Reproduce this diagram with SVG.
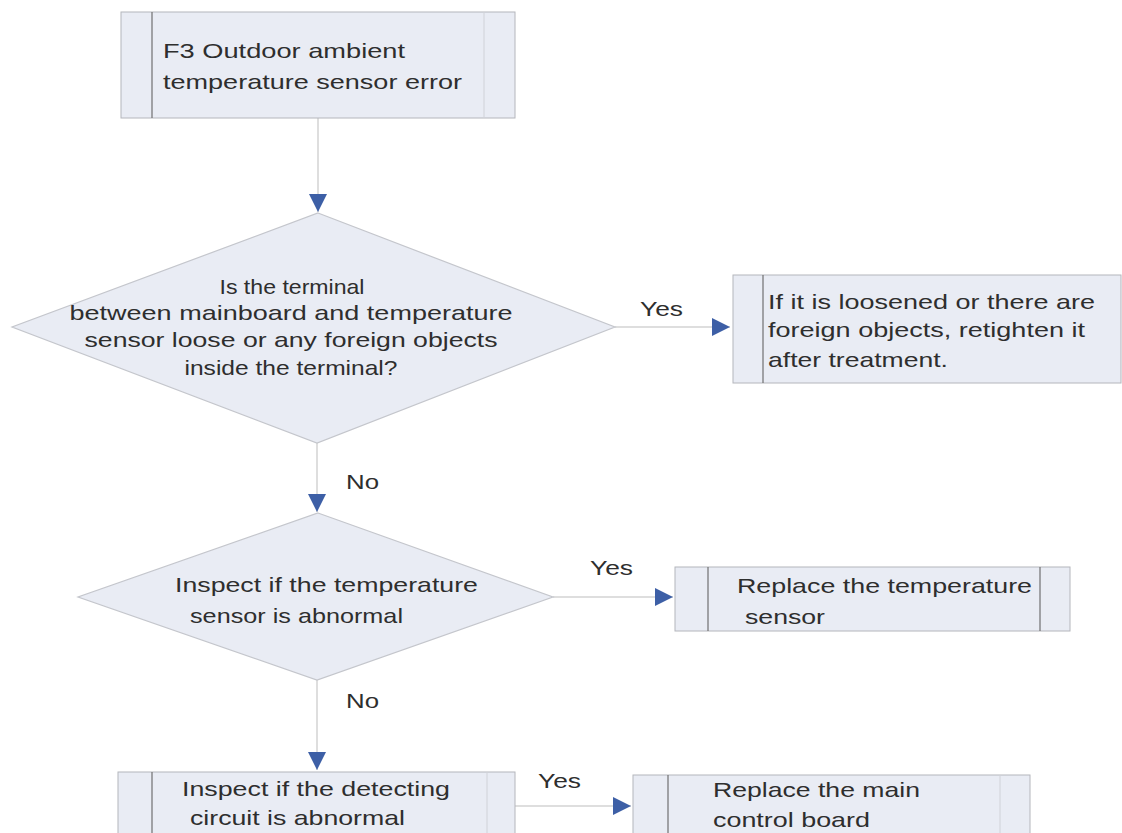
<svg xmlns="http://www.w3.org/2000/svg" width="1122" height="833" viewBox="0 0 1122 833">
<style>
.bg{fill:#ffffff}
.box{fill:#e9ecf4;stroke:#b4b6bc;stroke-width:1}
.dia{fill:#e9ecf4;stroke:#c4c6cc;stroke-width:1.2}
.div{stroke:#707070;stroke-width:1.2}
.div2{stroke:#d0d2d8;stroke-width:1}
.t{font-family:"Liberation Sans",Arial,sans-serif;font-size:21px;fill:#2e2e2e}
.c{text-anchor:middle}
.line{stroke:#bdbdbd;stroke-width:1;fill:none}
</style>
<defs>
<marker id="arr" viewBox="0 0 10 10" refX="10" refY="5" markerWidth="18" markerHeight="18" markerUnits="userSpaceOnUse" orient="auto">
<path d="M0,0 L10,5 L0,10 Z" fill="#3d5fa6"/>
</marker>
</defs>
<rect class="bg" x="0" y="0" width="1122" height="833"/>

<g id="connectors">
<line class="line" x1="318" y1="118" x2="318" y2="212" marker-end="url(#arr)"/>
<line class="line" x1="615" y1="327" x2="730" y2="327" marker-end="url(#arr)"/>
<line class="line" x1="317" y1="443" x2="317" y2="512" marker-end="url(#arr)"/>
<line class="line" x1="553" y1="597" x2="673" y2="597" marker-end="url(#arr)"/>
<line class="line" x1="317" y1="680" x2="317" y2="770" marker-end="url(#arr)"/>
<line class="line" x1="515" y1="806" x2="631" y2="806" marker-end="url(#arr)"/>
<text class="t" x="640" y="316" textLength="43" lengthAdjust="spacingAndGlyphs">Yes</text>
<text class="t" x="346" y="489" textLength="33" lengthAdjust="spacingAndGlyphs">No</text>
<text class="t" x="590" y="575" textLength="43" lengthAdjust="spacingAndGlyphs">Yes</text>
<text class="t" x="346" y="708" textLength="33" lengthAdjust="spacingAndGlyphs">No</text>
<text class="t" x="538" y="788" textLength="43" lengthAdjust="spacingAndGlyphs">Yes</text>
</g>

<g id="start">
<rect class="box" x="121" y="12" width="394" height="106"/>
<line class="div" x1="152" y1="12" x2="152" y2="118"/>
<line class="div2" x1="484" y1="12" x2="484" y2="118"/>
<text class="t" x="163" y="58" textLength="242" lengthAdjust="spacingAndGlyphs">F3 Outdoor ambient</text>
<text class="t" x="163" y="89" textLength="299" lengthAdjust="spacingAndGlyphs">temperature sensor error</text>
</g>

<g id="decision1">
<polygon class="dia" points="318,213 615,327 317,443 12,327"/>
<text class="t c" x="292" y="294" textLength="145" lengthAdjust="spacingAndGlyphs">Is the terminal</text>
<text class="t c" x="291" y="320" textLength="443" lengthAdjust="spacingAndGlyphs">between mainboard and temperature</text>
<text class="t c" x="291" y="347" textLength="413" lengthAdjust="spacingAndGlyphs">sensor loose or any foreign objects</text>
<text class="t c" x="291" y="375" textLength="213" lengthAdjust="spacingAndGlyphs">inside the terminal?</text>
</g>

<g id="fix1">
<rect class="box" x="733" y="275" width="388" height="108"/>
<line class="div" x1="763" y1="275" x2="763" y2="383"/>
<text class="t" x="768" y="309" textLength="327" lengthAdjust="spacingAndGlyphs">If it is loosened or there are</text>
<text class="t" x="768" y="337" textLength="317" lengthAdjust="spacingAndGlyphs">foreign objects, retighten it</text>
<text class="t" x="768" y="367" textLength="180" lengthAdjust="spacingAndGlyphs">after treatment.</text>
</g>

<g id="decision2">
<polygon class="dia" points="318,513 553,597 317,680 78,597"/>
<text class="t" x="175" y="592" textLength="303" lengthAdjust="spacingAndGlyphs">Inspect if the temperature</text>
<text class="t" x="190" y="623" textLength="213" lengthAdjust="spacingAndGlyphs">sensor is abnormal</text>
</g>

<g id="fix2">
<rect class="box" x="675" y="567" width="395" height="64"/>
<line class="div" x1="708" y1="567" x2="708" y2="631"/>
<line class="div" x1="1040" y1="567" x2="1040" y2="631"/>
<text class="t" x="737" y="593" textLength="295" lengthAdjust="spacingAndGlyphs">Replace the temperature</text>
<text class="t" x="745" y="624" textLength="80" lengthAdjust="spacingAndGlyphs">sensor</text>
</g>

<g id="check3">
<rect class="box" x="118" y="772" width="397" height="70"/>
<line class="div" x1="152" y1="772" x2="152" y2="842"/>
<line class="div2" x1="487" y1="772" x2="487" y2="842"/>
<text class="t" x="182" y="796" textLength="268" lengthAdjust="spacingAndGlyphs">Inspect if the detecting</text>
<text class="t" x="190" y="825" textLength="215" lengthAdjust="spacingAndGlyphs">circuit is abnormal</text>
</g>

<g id="fix3">
<rect class="box" x="633" y="775" width="397" height="67"/>
<line class="div" x1="668" y1="775" x2="668" y2="842"/>
<line class="div2" x1="1000" y1="775" x2="1000" y2="842"/>
<text class="t" x="713" y="797" textLength="207" lengthAdjust="spacingAndGlyphs">Replace the main</text>
<text class="t" x="713" y="827" textLength="157" lengthAdjust="spacingAndGlyphs">control board</text>
</g>
</svg>
